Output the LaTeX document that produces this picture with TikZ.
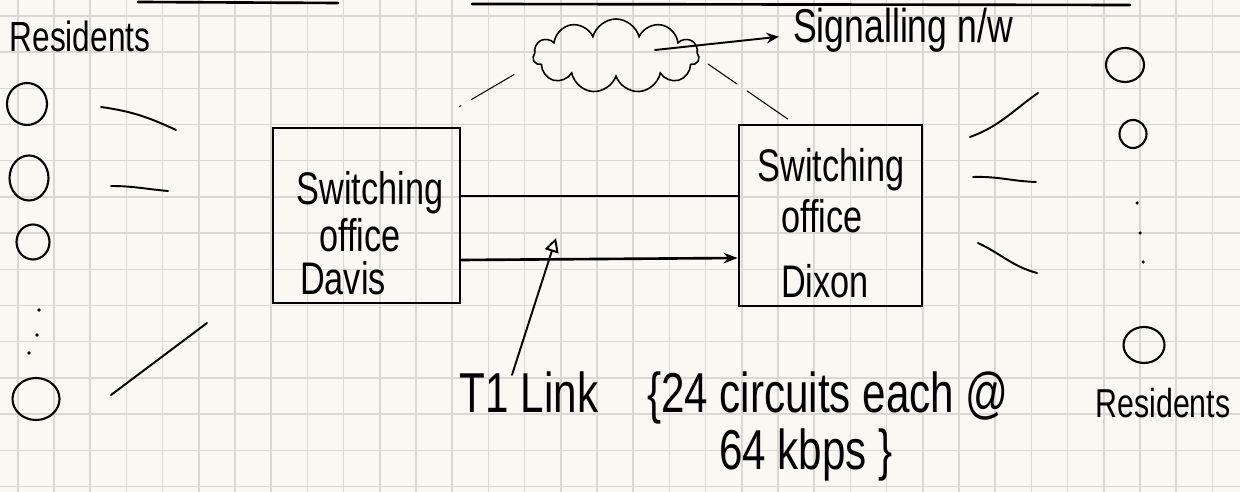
\documentclass[tikz,border=0pt]{standalone}
\usepackage{fontspec}
\setmainfont[FakeStretch=0.75]{Liberation Sans}
\usepackage{xcolor}
\usetikzlibrary{positioning}
\usetikzlibrary{shapes.geometric,shapes.symbols,arrows.meta}
\definecolor{paper}{HTML}{F9F8F3}
\definecolor{gridGray}{HTML}{DAD8D3}
\tikzset{%
  resident/.style={ellipse, draw, line width=1.2pt, inner sep=0pt},
  switchOffice/.style={rectangle, draw, line width=1.6pt, inner sep=0pt},
  signalCloud/.style={cloud, draw, line width=0.9pt, cloud puffs=11, aspect=2.2, inner sep=0pt},
  % text written by hand
  hand/.style={inner sep=0pt, anchor=base},
  boxText/.style={hand, font=\fontsize{26}{30}\selectfont},
  bigText/.style={hand, font=\fontsize{32}{36}\selectfont},
  % lines
  wire/.style={line width=1.5pt, line cap=round},
  stub/.style={line width=1.1pt, line cap=round},
  sigDash/.style={line width=0.6pt, line cap=round},
  gridLine/.style={gridGray, line width=0.9pt}}

\begin{document}
\begin{tikzpicture}[x=0.02cm, y=-0.02cm]
        %Paper
        \fill[paper] (0,0) rectangle (1240,492);
        \useasboundingbox (0,0) rectangle (1240,492);
        \foreach \i in {0,...,33} \draw[gridLine] ({17.8+36.2*\i},0) -- ({17.8+36.2*\i},492);
        \foreach \j in {0,...,13} \draw[gridLine] (0,{15.9+36.2*\j}) -- (1240,{15.9+36.2*\j});
        \draw[wire] (138,2) -- (338,3);
        \draw[wire] (472,4) -- (1130,5);

        %Nodes
        \node[switchOffice, minimum width=3.74cm, minimum height=3.5cm] (davis) at (366.5,215.5) {};
        \node[switchOffice, minimum width=3.66cm, minimum height=3.62cm] (dixon) at (830.5,215.5) {};
        \node[signalCloud, minimum width=3.32cm, minimum height=1.48cm] (ss7) at (616,56) {};

        \node[boxText] (davisSw) at (370,205) {Switching};
        \node[boxText] (davisOf) at (360,252) {office};
        \node[boxText] (davisName) at (343,295) {Davis};
        \node[boxText] (dixonSw) at (831,182) {Switching};
        \node[boxText] (dixonOf) at (822,233) {office};
        \node[boxText] (dixonName) at (825,298) {Dixon};

        \node[resident, minimum width=0.8cm, minimum height=0.84cm] (resA) at (27,104) {};
        \node[resident, minimum width=0.78cm, minimum height=0.9cm] (resB) at (29,178) {};
        \node[resident, minimum width=0.66cm, minimum height=0.7cm] (resC) at (33,242) {};
        \node[resident, minimum width=0.94cm, minimum height=0.84cm] (resD) at (36,399) {};
        \node[resident, minimum width=0.76cm, minimum height=0.68cm] (resE) at (1125,65) {};
        \node[resident, minimum width=0.54cm, minimum height=0.56cm] (resF) at (1133,134) {};
        \node[resident, minimum width=0.82cm, minimum height=0.72cm] (resG) at (1144,345) {};
        \foreach \p in {(39,310),(37,335),(29,353),(1137,203),(1140,233),(1143,262)}
            \fill \p circle (1pt);

        \node[hand, font=\fontsize{24}{28}\selectfont] (resTop) at (80,52) {Residents};
        \node[hand, font=\fontsize{23}{27}\selectfont] (resBottom) at (1163,418) {Residents};
        \node[hand, font=\fontsize{27}{31}\selectfont] (sigLabel) at (903,43) {Signalling n/w};
        \node[bigText] (t1Label) at (529,413) {T1 Link};
        \node[bigText] (rateLabel) at (828,413) {\{24 circuits each @};
        \node[bigText] (rateLabelB) at (806,470) {64 kbps \}};

        \coordinate (linkMid) at (556,238);
        \coordinate (stubA1) at (101,107); \coordinate (stubA2) at (176,130);
        \coordinate (stubB1) at (111,186); \coordinate (stubB2) at (168,191);
        \coordinate (stubC1) at (111,395); \coordinate (stubC2) at (207,323);
        \coordinate (stubD1) at (970,137); \coordinate (stubD2) at (1038,93);
        \coordinate (stubE1) at (973,177); \coordinate (stubE2) at (1036,182);
        \coordinate (stubF1) at (978,243); \coordinate (stubF2) at (1037,273);

        %Lines
        \draw[wire] (davis.east |- 0,196) -- (dixon.west |- 0,196);
        \draw[wire, -{Stealth[length=8pt, width=6pt]}] (davis.east |- 0,260) -- (dixon.west |- 0,258);
        \draw[stub, -{Triangle[open, length=8pt, width=8pt]}] ([shift={(-17,3)}]t1Label.north) -- (linkMid);
        \draw[stub, -{Stealth[length=7pt, width=6pt]}] ([shift={(39,-6)}]ss7.center) -- ([shift={(-14,6)}]sigLabel.west);
        \draw[sigDash, dash pattern=on 1pt off 7pt on 28pt off 7pt] ([shift={(-2,-20)}]davis.north east) -- ([shift={(-101,18)}]ss7.center);
        \draw[sigDash, dash pattern=on 20pt off 7pt on 28pt off 7pt] ([shift={(92,8)}]ss7.center) -- ([shift={(51,-4)}]dixon.north west);

        \draw[stub] (stubA1) to[out=-8, in=155] (stubA2);
        \draw[stub] (stubB1) to[out=0, in=175] (stubB2);
        \draw[stub] (stubC1) -- (stubC2);
        \draw[stub] (stubD1) to[out=20, in=-145] (stubD2);
        \draw[stub] (stubE1) to[out=2, in=178] (stubE2);
        \draw[stub] (stubF1) to[out=-25, in=165] (stubF2);
    \end{tikzpicture}
\end{document}
